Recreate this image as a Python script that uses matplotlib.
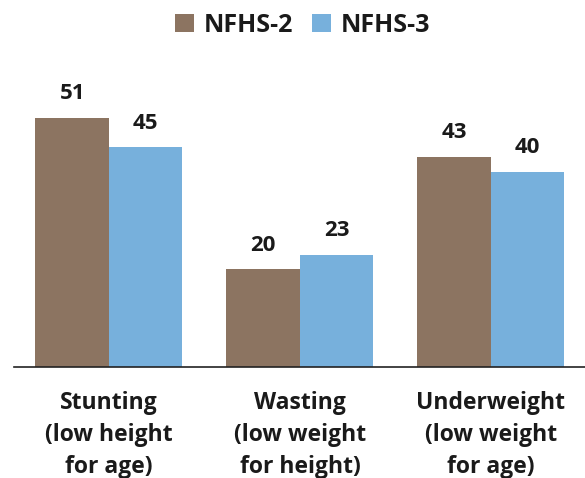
import matplotlib
matplotlib.use("Agg")
import matplotlib.pyplot as plt
import numpy as np

categories = ["Stunting\n(low height\nfor age)", "Wasting\n(low weight\nfor height)", "Underweight\n(low weight\nfor age)"]
series_names = ["NFHS-2", "NFHS-3"]
nfhs2 = [51, 20, 43]
nfhs3 = [45, 23, 40]
colors = ["#8c7461", "#77b0dc"]

plt.rcParams['font.family'] = ['Open Sans', 'DejaVu Sans']

fig = plt.figure(figsize=(5.85, 4.78), dpi=100)
ax = fig.add_axes([14/585, 111/478, 1 - 14/585, (367 - 50)/478])

x = np.arange(len(categories))
w = 0.385
b1 = ax.bar(x - w/2, nfhs2, w, color=colors[0], label=series_names[0])
b2 = ax.bar(x + w/2, nfhs3, w, color=colors[1], label=series_names[1])

for bars in (b1, b2):
    for r in bars:
        ax.annotate(f"{int(r.get_height())}", (r.get_x() + r.get_width()/2, r.get_height()),
                    xytext=(0, 10), textcoords="offset points", ha="center", va="bottom",
                    fontsize=16, fontweight="bold", color="#1a1a1a")

ax.set_xlim(-0.497, 2.493)
ax.set_ylim(0, 317/4.88)
ax.set_xticks(x)
ax.set_xticklabels(categories, fontsize=16.5, fontweight="bold", color="#1a1a1a", linespacing=1.46)
ax.tick_params(axis="x", length=0, pad=17)
ax.set_yticks([])
for s in ["top", "right", "left"]:
    ax.spines[s].set_visible(False)
ax.spines["bottom"].set_color("#222222")
ax.spines["bottom"].set_linewidth(1.2)

leg = fig.legend(loc="center", bbox_to_anchor=(303/585, 1 - 25/478), ncol=2, frameon=False,
                 handlelength=0.75, handleheight=0.7, handletextpad=0.4, columnspacing=0.75,
                 prop={"size": 18, "weight": "bold"})
for t in leg.get_texts():
    t.set_color("#1a1a1a")

fig.savefig("out.png", dpi=100)
